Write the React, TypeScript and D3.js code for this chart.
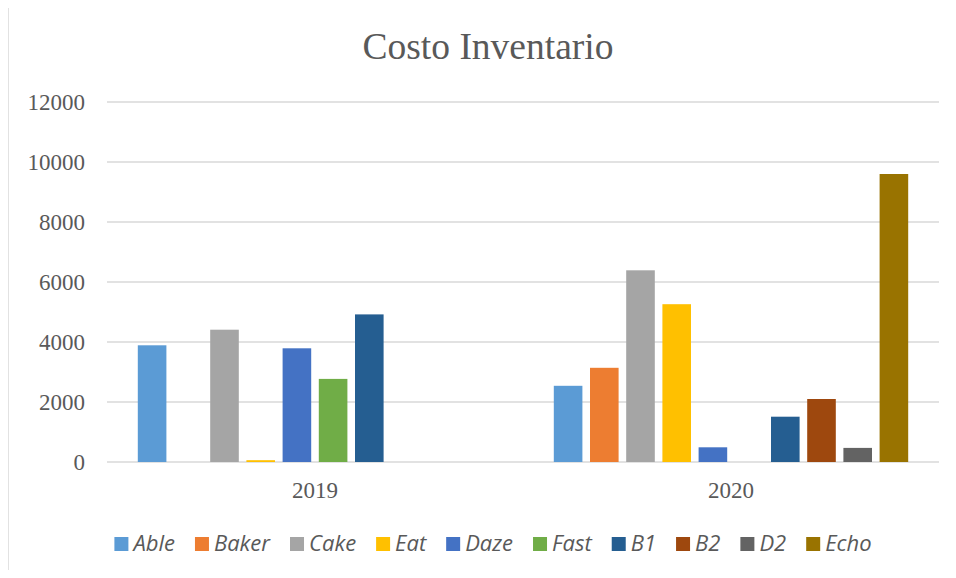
import React, { useEffect, useRef } from "react";
import * as d3 from "d3";

const categories = ["2019", "2020"];
const seriesNames = ["Able", "Baker", "Cake", "Eat", "Daze", "Fast", "B1", "B2", "D2", "Echo"];
const seriesColors = ["#5B9BD5", "#ED7D31", "#A5A5A5", "#FFC000", "#4472C4", "#70AD47", "#255E91", "#9E480E", "#636363", "#997300"];
const values2019 = [3890, 0, 4410, 60, 3790, 2770, 4920, 0, 0, 0];
const values2020 = [2540, 3140, 6390, 5260, 490, 0, 1510, 2100, 470, 9600];
const yTicks = [0, 2000, 4000, 6000, 8000, 10000, 12000];

const W = 956;
const H = 578;

export default function App() {
  const ref = useRef<SVGSVGElement | null>(null);

  useEffect(() => {
    const svg = d3.select(ref.current);
    svg.selectAll("*").remove();

    const plotLeft = 107, plotRight = 939, plotTop = 102, plotBottom = 462;
    const x = d3.scaleBand<string>().domain(categories).range([plotLeft, plotRight]).padding(0);
    const gap = (x.bandwidth() - 362) / 2;
    const xs = d3.scaleBand<string>().domain(seriesNames).range([gap, x.bandwidth() - gap]).paddingInner(0.21).paddingOuter(0.105);
    const y = d3.scaleLinear().domain([0, 12000]).range([plotBottom, plotTop]);

    // border
    svg.append("rect").attr("x", 8).attr("y", 6).attr("width", W + 10).attr("height", H + 10)
      .attr("fill", "#fff").attr("stroke", "#d9d9d9").attr("stroke-width", 1.5);

    // title
    svg.append("text").attr("x", 488).attr("y", 59).attr("text-anchor", "middle")
      .attr("font-family", "'Liberation Serif', 'Times New Roman', serif").attr("font-size", 37.5)
      .attr("fill", "#595959").text("Costo Inventario");

    // gridlines
    svg.append("g").selectAll("line").data(yTicks).join("line")
      .attr("x1", plotLeft).attr("x2", plotRight)
      .attr("y1", (d) => y(d)).attr("y2", (d) => y(d))
      .attr("stroke", "#d9d9d9").attr("stroke-width", 1.5);

    // y labels
    svg.append("g").selectAll("text").data(yTicks).join("text")
      .attr("x", 85).attr("y", (d) => y(d)).attr("dy", "0.35em").attr("text-anchor", "end")
      .attr("font-family", "'Liberation Serif', 'Times New Roman', serif").attr("font-size", 23)
      .attr("fill", "#595959").text((d) => String(d));

    // bars
    const data = [values2019, values2020];
    categories.forEach((c, ci) => {
      const g = svg.append("g").attr("transform", `translate(${x(c)},0)`);
      g.selectAll("rect").data(seriesNames.map((s, i) => ({ s, v: data[ci][i], color: seriesColors[i] })))
        .join("rect")
        .attr("x", (d) => xs(d.s)!)
        .attr("width", xs.bandwidth())
        .attr("y", (d) => y(d.v))
        .attr("height", (d) => y(0) - y(d.v))
        .attr("fill", (d) => d.color);
    });

    // x labels
    svg.append("g").selectAll("text").data(categories).join("text")
      .attr("x", (d) => x(d)! + x.bandwidth() / 2).attr("y", 498).attr("text-anchor", "middle")
      .attr("font-family", "'Liberation Serif', 'Times New Roman', serif").attr("font-size", 23)
      .attr("fill", "#595959").text((d) => d);

    // legend
    const lg = svg.append("g");
    const items = seriesNames.map((s, i) => {
      const it = lg.append("g");
      it.append("rect").attr("x", 0).attr("y", 537).attr("width", 14).attr("height", 14).attr("fill", seriesColors[i]);
      const t = it.append("text").attr("x", 19).attr("y", 551)
        .attr("font-family", "'Open Sans', sans-serif").attr("font-style", "italic").attr("font-size", 22)
        .attr("fill", "#595959").text(s);
      const w = (t.node() as SVGTextElement).getComputedTextLength();
      return { it, w: 19 + w };
    });
    const itemGap = 20;
    const total = d3.sum(items, (d) => d.w) + itemGap * (items.length - 1);
    let cx = 493 - total / 2;
    items.forEach((d) => {
      d.it.attr("transform", `translate(${cx},0)`);
      cx += d.w + itemGap;
    });
  }, []);

  return <svg ref={ref} width={W} height={H} style={{ display: "block", margin: "-8px" }} />;
}
